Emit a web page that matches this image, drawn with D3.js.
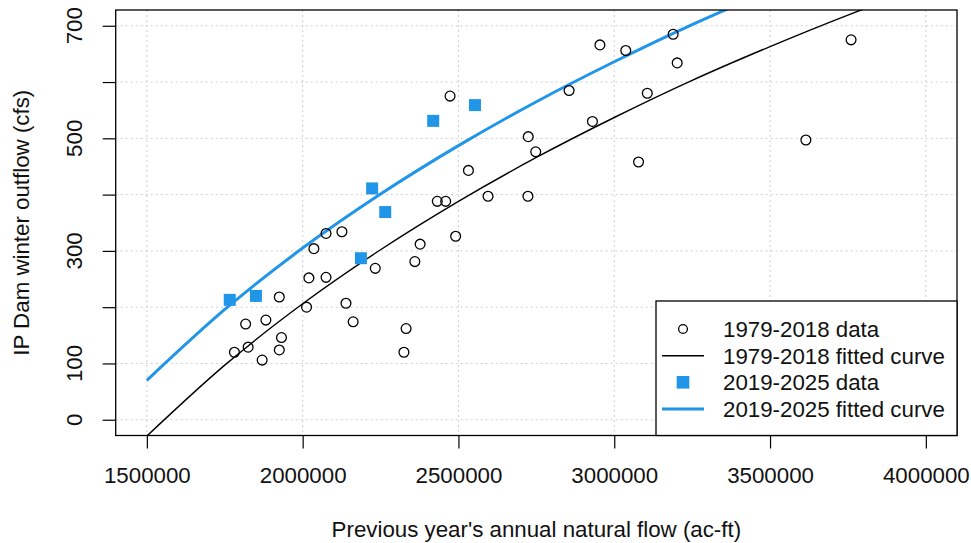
<!DOCTYPE html>
<html>
<head>
<meta charset="utf-8">
<script src="https://cdn.jsdelivr.net/npm/d3@7"></script>
<style>
  body { margin: 0; background: #fff; }
  svg text { font-family: "Liberation Sans", Arial, sans-serif; fill: #111; }
</style>
</head>
<body>
<div id="chart"></div>
<script>
// 1979-2018 observations
const flow7918 = [1781000, 1817000, 1825000, 1870000, 1882000, 1925000, 1925000, 1932000,
  2012500, 2020000, 2036000, 2075000, 2075000, 2126000, 2139000, 2162000, 2233000,
  2325000, 2332000, 2360000, 2377000, 2432000, 2459000, 2473000, 2491000, 2532000,
  2595000, 2723000, 2724000, 2748000, 2855000, 2930000, 2954000, 3037000, 3078000,
  3106000, 3189000, 3202000, 3615000, 3760000];
const outflow7918 = [120, 170, 129, 106, 177, 218, 124, 146,
  200, 252, 304, 253, 331, 334, 207, 174, 269,
  120, 162, 281, 312, 388, 388, 575, 326, 443,
  397, 397, 503, 476, 585, 530, 666, 656, 458,
  580, 685, 634, 497, 675];

// 2019-2025 observations
const flow1925 = [1766000, 1850000, 2187000, 2223000, 2265000, 2419000, 2553000];
const outflow1925 = [213, 220, 287, 411, 369, 531, 559];

// fitted curves
const curveFlow = [1500000, 1750000, 2000000, 2250000, 2500000, 2750000, 3000000,
  3250000, 3500000, 3750000, 4000000];
const fit7918 = [-29, 97, 206, 302, 388, 466, 537, 603, 663, 719, 770];
const fit1925 = [70, 196, 305, 401, 487, 565, 636, 702, 762, 818, 870];

const xTicks = [1500000, 2000000, 2500000, 3000000, 3500000, 4000000];
const yTicks = [0, 100, 200, 300, 400, 500, 600, 700];
const yLabels = [0, 100, 300, 500, 700];

const legendLabels = ["1979-2018 data", "1979-2018 fitted curve", "2019-2025 data", "2019-2025 fitted curve"];

const blue = "#2196e8";
const fontSize = "22.3px";
const W = 971, H = 543;
const plot = { left: 115.7, right: 957, top: 10, bottom: 435.5 };

const svg = d3.select("#chart").append("svg")
  .attr("width", W)
  .attr("height", H);

const x = d3.scaleLinear().domain([1400000, 4100000]).range([plot.left, plot.right]);
const y = d3.scaleLinear().domain([-28, 728]).range([plot.bottom, plot.top]);

svg.append("defs").append("clipPath")
  .attr("id", "clip")
  .append("rect")
  .attr("x", plot.left)
  .attr("y", plot.top)
  .attr("width", plot.right - plot.left)
  .attr("height", plot.bottom - plot.top);

// grid
const grid = svg.append("g").attr("stroke", "#cfcfcf").attr("stroke-dasharray", "2,3").attr("stroke-width", 1);
grid.selectAll(".gx")
  .data(xTicks)
  .enter()
  .append("line")
  .attr("x1", d => x(d)).attr("x2", d => x(d))
  .attr("y1", plot.top).attr("y2", plot.bottom);
grid.selectAll(".gy")
  .data(yTicks)
  .enter()
  .append("line")
  .attr("x1", plot.left).attr("x2", plot.right)
  .attr("y1", d => y(d)).attr("y2", d => y(d));

// fitted curves
const body = svg.append("g").attr("clip-path", "url(#clip)");

const fitLine = d3.line()
  .x((d, i) => x(curveFlow[i]))
  .y(d => y(d))
  .curve(d3.curveMonotoneX);

body.append("path")
  .datum(fit7918)
  .attr("fill", "none")
  .attr("stroke", "#000")
  .attr("stroke-width", 1.4)
  .attr("d", fitLine);

body.append("path")
  .datum(fit1925)
  .attr("fill", "none")
  .attr("stroke", blue)
  .attr("stroke-width", 3)
  .attr("d", fitLine);

// points
body.selectAll(".pt")
  .data(flow7918)
  .enter()
  .append("circle")
  .attr("cx", d => x(d))
  .attr("cy", (d, i) => y(outflow7918[i]))
  .attr("r", 4.9)
  .attr("fill", "none")
  .attr("stroke", "#000")
  .attr("stroke-width", 1.3);

const sq = 12;
body.selectAll(".sq")
  .data(flow1925)
  .enter()
  .append("rect")
  .attr("x", d => x(d) - sq / 2)
  .attr("y", (d, i) => y(outflow1925[i]) - sq / 2)
  .attr("width", sq)
  .attr("height", sq)
  .attr("fill", blue);

// axes
const xAxis = svg.append("g")
  .attr("transform", `translate(0,${plot.bottom})`)
  .call(d3.axisBottom(x).tickValues(xTicks).tickSize(13).tickPadding(19).tickFormat(d3.format("d")));
xAxis.select(".domain").remove();
xAxis.selectAll("line").attr("stroke", "#000").attr("stroke-width", 1.2);
xAxis.selectAll("text").style("font-size", fontSize).attr("fill", "#111");

const yAxis = svg.append("g")
  .attr("transform", `translate(${plot.left},0)`)
  .call(d3.axisLeft(y).tickValues(yTicks).tickSize(13).tickFormat(""));
yAxis.select(".domain").remove();
yAxis.selectAll("line").attr("stroke", "#000").attr("stroke-width", 1.2);

svg.selectAll(".ylab")
  .data(yLabels)
  .enter()
  .append("text")
  .attr("transform", d => `translate(82,${y(d)}) rotate(-90)`)
  .attr("text-anchor", "middle")
  .style("font-size", fontSize)
  .text(d => d);

// frame
svg.append("rect")
  .attr("x", plot.left)
  .attr("y", plot.top)
  .attr("width", plot.right - plot.left)
  .attr("height", plot.bottom - plot.top)
  .attr("fill", "none")
  .attr("stroke", "#000")
  .attr("stroke-width", 1.3);

// axis titles
svg.append("text")
  .attr("x", (plot.left + plot.right) / 2)
  .attr("y", 537)
  .attr("text-anchor", "middle")
  .style("font-size", fontSize)
  .text("Previous year's annual natural flow (ac-ft)");

svg.append("text")
  .attr("transform", `translate(29,${(plot.top + plot.bottom) / 2}) rotate(-90)`)
  .attr("text-anchor", "middle")
  .style("font-size", fontSize)
  .text("IP Dam winter outflow (cfs)");

// legend
const legend = svg.append("g");
legend.append("rect")
  .attr("x", 656)
  .attr("y", 301)
  .attr("width", plot.right - 656)
  .attr("height", plot.bottom - 301)
  .attr("fill", "#fff")
  .attr("stroke", "#000")
  .attr("stroke-width", 1.3);

const rowY = [329, 355.7, 382.3, 409];
legend.selectAll(".lt")
  .data(legendLabels)
  .enter()
  .append("text")
  .attr("x", 723)
  .attr("y", (d, i) => rowY[i])
  .attr("dy", "0.36em")
  .style("font-size", fontSize)
  .text(d => d);

legend.append("circle")
  .attr("cx", 683).attr("cy", rowY[0]).attr("r", 4.4)
  .attr("fill", "none").attr("stroke", "#000").attr("stroke-width", 1.3);
legend.append("line")
  .attr("x1", 662).attr("x2", 704).attr("y1", rowY[1]).attr("y2", rowY[1])
  .attr("stroke", "#000").attr("stroke-width", 1.4);
legend.append("rect")
  .attr("x", 683 - 6.3).attr("y", rowY[2] - 6.3).attr("width", 12.6).attr("height", 12.6)
  .attr("fill", blue);
legend.append("line")
  .attr("x1", 662).attr("x2", 704).attr("y1", rowY[3]).attr("y2", rowY[3])
  .attr("stroke", blue).attr("stroke-width", 3);
</script>
</body>
</html>
